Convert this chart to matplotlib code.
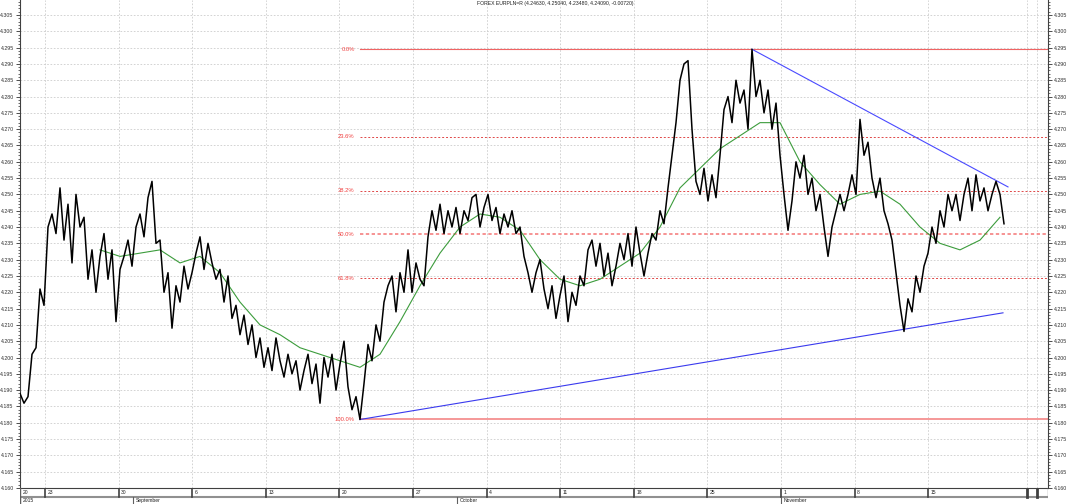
import matplotlib
matplotlib.use("Agg")
import matplotlib.pyplot as plt
import numpy as np
from matplotlib.ticker import MultipleLocator, FormatStrFormatter

plt.rcParams['font.family'] = ['Liberation Sans', 'DejaVu Sans']

title = "FOREX EURPLN=R (4.24630, 4.25040, 4.23480, 4.24090, -0.00720)"

# price, one sample every ~0.27 trading day
close = [
    4.189, 4.186, 4.188, 4.201, 4.203, 4.221, 4.216, 4.240, 4.244, 4.238,
    4.252, 4.236, 4.247, 4.229, 4.250, 4.240, 4.243, 4.224, 4.233, 4.220,
    4.231, 4.238, 4.224, 4.233, 4.211, 4.227, 4.231, 4.236, 4.228, 4.240,
    4.244, 4.237, 4.249, 4.254, 4.235, 4.236, 4.220, 4.226, 4.209, 4.222,
    4.217, 4.228, 4.221, 4.226, 4.232, 4.237, 4.227, 4.235, 4.229, 4.224,
    4.227, 4.217, 4.225, 4.212, 4.216, 4.207, 4.213, 4.204, 4.210, 4.200,
    4.206, 4.197, 4.203, 4.196, 4.206, 4.199, 4.194, 4.201, 4.195, 4.199,
    4.190, 4.196, 4.201, 4.192, 4.198, 4.186, 4.200, 4.194, 4.201, 4.190,
    4.198, 4.205, 4.191, 4.184, 4.188, 4.181, 4.192, 4.204, 4.199, 4.210,
    4.205, 4.217, 4.222, 4.225, 4.214, 4.226, 4.220, 4.233, 4.220, 4.229,
    4.224, 4.222, 4.237, 4.245, 4.239, 4.247, 4.238, 4.245, 4.240, 4.246,
    4.238, 4.245, 4.242, 4.249, 4.250, 4.240, 4.246, 4.250, 4.242, 4.246,
    4.238, 4.244, 4.240, 4.245, 4.238, 4.240, 4.231, 4.226, 4.220, 4.226,
    4.230, 4.221, 4.215, 4.222, 4.212, 4.219, 4.225, 4.211, 4.220, 4.216,
    4.225, 4.222, 4.233, 4.236, 4.228, 4.235, 4.225, 4.232, 4.222, 4.228,
    4.235, 4.230, 4.238, 4.228, 4.240, 4.232, 4.225, 4.232, 4.238, 4.236,
    4.245, 4.241, 4.252, 4.262, 4.272, 4.285, 4.290, 4.291, 4.270, 4.254,
    4.250, 4.258, 4.248, 4.256, 4.249, 4.262, 4.276, 4.280, 4.272, 4.285,
    4.278, 4.282, 4.270, 4.2945, 4.280, 4.285, 4.275, 4.282, 4.270, 4.278,
    4.262, 4.250, 4.239, 4.248, 4.260, 4.255, 4.262, 4.250, 4.255, 4.245,
    4.250, 4.240, 4.231, 4.240, 4.245, 4.250, 4.245, 4.250, 4.256, 4.250,
    4.273, 4.262, 4.266, 4.255, 4.249, 4.255, 4.245, 4.241, 4.236, 4.226,
    4.216, 4.208, 4.218, 4.214, 4.225, 4.220, 4.228, 4.232, 4.240, 4.235,
    4.245, 4.240, 4.250, 4.245, 4.250, 4.242, 4.250, 4.255, 4.245, 4.256,
    4.248, 4.252, 4.245, 4.250, 4.254, 4.250, 4.241,
]

# moving average, read every 5 samples from sample 20
ma_values = [
    4.233, 4.231, 4.232, 4.233, 4.229, 4.231, 4.226, 4.217, 4.210, 4.207,
    4.203, 4.201, 4.199, 4.197, 4.201, 4.211, 4.222, 4.232, 4.240, 4.244,
    4.243, 4.239, 4.230, 4.224, 4.222, 4.224, 4.228, 4.232, 4.240, 4.252,
    4.258, 4.264, 4.268, 4.272, 4.272, 4.260, 4.253, 4.247, 4.250, 4.251,
    4.247, 4.240, 4.235, 4.233, 4.236, 4.243,
]
ma_first = 20
ma_step = 5

fib_high = 4.2945
fib_low = 4.181
fib_start = 85
fib_ratios = [0.0, 0.236, 0.382, 0.5, 0.618, 1.0]
fib_labels = ["0.0%", "23.6%", "38.2%", "50.0%", "61.8%", "100.0%"]

upper_x = [183, 247]
upper_y = [4.2945, 4.2523]
lower_x = [85, 245.75]
lower_y = [4.181, 4.2137]

first_label = "20"
day_labels = ["23", "30", "6", "13", "20", "27", "4", "11", "18", "25", "1", "8", "15"]
month_labels = ["2015", "September", "October", "November"]

# layout
first_week = 6.25
week = 18.4
per_day = week / 5
week_pos = first_week + week * np.arange(len(day_labels))
extra_pos = [251.75, 254.25]
month_pos = [0, week_pos[1] + per_day, week_pos[5] + 3 * per_day, week_pos[10]]

fib_styles = [
    ('#f06464', '-', 0.8),
    ('#e04848', (0, (2, 2)), 0.7),
    ('#e04848', (0, (2, 2)), 0.7),
    ('#f58080', (0, (2, 1.5)), 1.2),
    ('#e04848', (0, (2, 2)), 0.7),
    ('#f59090', '-', 1.3),
]

fig = plt.figure(figsize=(10.68, 5.04), dpi=100)
ax = fig.add_axes([20 / 1068, 16 / 504, 1028 / 1068, 488 / 504])
ax.set_xlim(0, 257)
ax.set_ylim(4.160, 4.3096)

ax.yaxis.set_major_locator(MultipleLocator(0.005))
ax.yaxis.set_minor_locator(MultipleLocator(0.001))
ax.yaxis.set_major_formatter(FormatStrFormatter('%.3f'))
ax.set_xticks(list(week_pos) + extra_pos)
ax.tick_params(axis='x', length=0, labelbottom=False)
ax.tick_params(axis='y', which='both', left=True, right=True, labelleft=True,
               labelright=True, direction='out', colors='#303030',
               labelsize=3.8, pad=1.5)
ax.tick_params(axis='y', which='major', length=3, width=0.6)
ax.tick_params(axis='y', which='minor', length=1.5, width=0.5)
ax.grid(True, color='#cccccc', ls=(0, (2, 2)), lw=0.6)
ax.set_axisbelow(True)
for s in ['left', 'right', 'bottom']:
    ax.spines[s].set_color('#404040')
    ax.spines[s].set_linewidth(0.8)
ax.spines['top'].set_visible(False)

# fibonacci levels
for r, lab, (c, ls, lw) in zip(fib_ratios, fib_labels, fib_styles):
    lvl = fib_high - r * (fib_high - fib_low)
    ax.plot([fib_start, 257], [lvl, lvl], color=c, ls=ls, lw=lw, zorder=2)
    ax.text(fib_start - 1.3, lvl, lab, color='#f04040', fontsize=4.2,
            ha='right', va='center')

ax.plot(upper_x, upper_y, color='#4a4aff', lw=0.8, zorder=3)
ax.plot(lower_x, lower_y, color='#3a3aee', lw=0.8, zorder=3)

ma_x = ma_first + ma_step * np.arange(len(ma_values))
ax.plot(ma_x, ma_values, color='#3c9c3c', lw=0.8, zorder=4)
ax.plot(np.arange(len(close)), close, color='black', lw=1.1, zorder=5)

fig.text(555 / 1068, 1 - 4 / 504, title, ha='center', va='center',
         fontsize=3.7, color='#202020')

# date strip
sx = fig.add_axes([20 / 1068, 0, 1028 / 1068, 16 / 504])
sx.set_xlim(0, 257)
sx.set_ylim(0, 16)
sx.axis('off')
sx.axhline(7.5, color='#909090', lw=1.5)
sx.axvline(257, ymin=7.5 / 16, color='#909090', lw=1.0)
sx.plot([0, 0], [0, 16], color='#606060', lw=1.0)
sx.text(0.6, 11.8, first_label, fontsize=3.6, va='center', color='#202020')
for p, lab in zip(week_pos, day_labels):
    sx.plot([p, p], [7.5, 16], color='#404040', lw=1.2)
    sx.text(p + 0.6, 11.8, lab, fontsize=3.6, va='center', color='#202020')
for p in extra_pos:
    sx.plot([p, p], [7.5, 16], color='#404040', lw=2.0)
for p, lab in zip(month_pos, month_labels):
    sx.plot([p, p], [0, 7.5], color='#606060', lw=0.8)
    sx.text(p + 0.6, 3.6, lab, fontsize=3.6, va='center', color='#202020')

fig.savefig("out.png", dpi=100)
